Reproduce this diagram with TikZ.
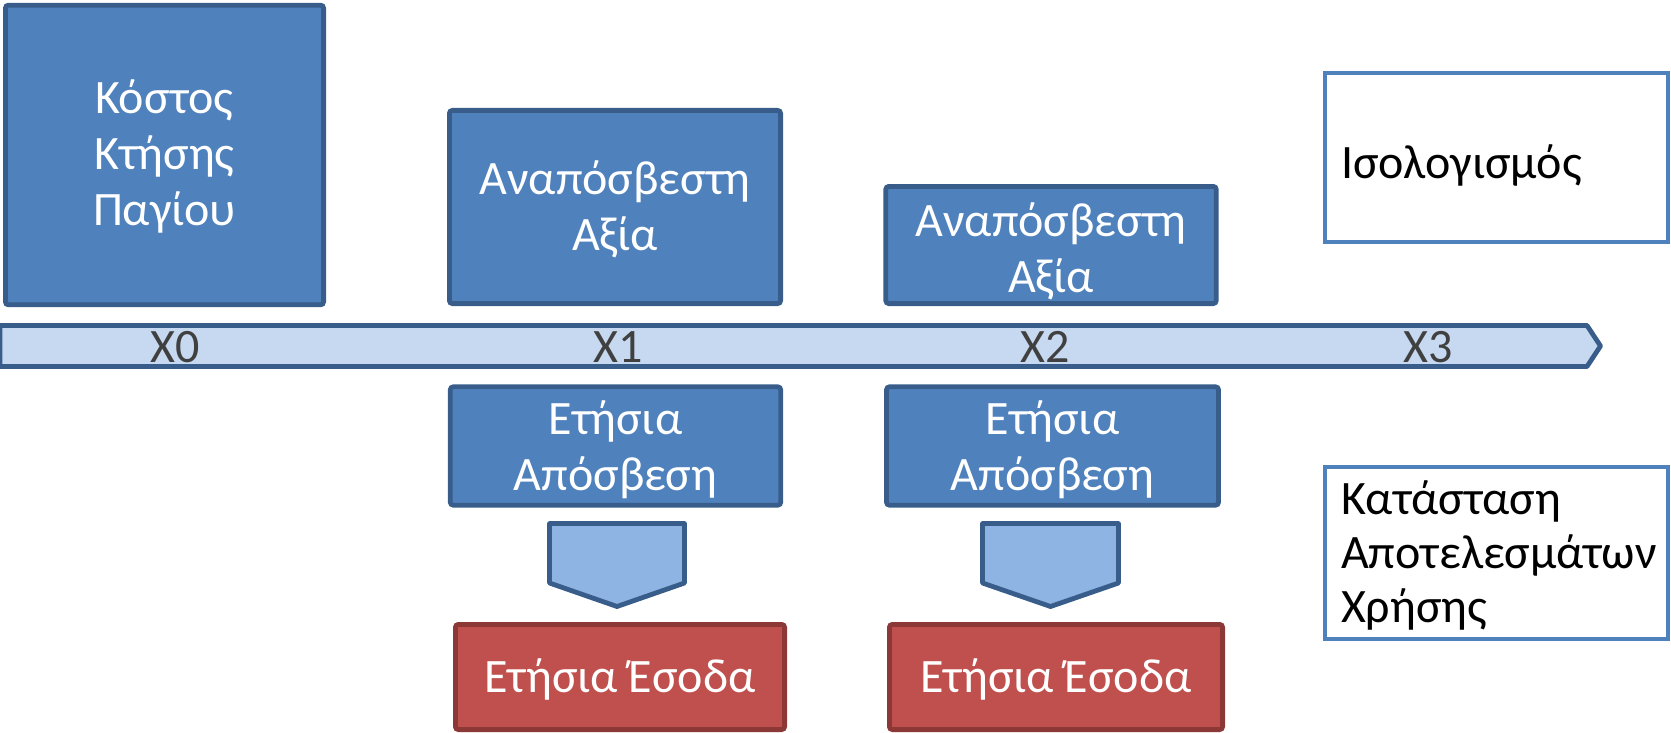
\documentclass[tikz,border=0pt]{standalone}
\usepackage{fontspec}
\setmainfont{Carlito}
\definecolor{boxfill}{HTML}{4F81BD}
\definecolor{boxline}{HTML}{385D8A}
\definecolor{linefill}{HTML}{C6D9F1}
\definecolor{arrfill}{HTML}{8EB4E3}
\definecolor{redfill}{HTML}{C0504D}
\definecolor{redline}{HTML}{8C3836}
\definecolor{labelgray}{HTML}{404040}
\begin{document}
\begin{tikzpicture}[x=0.5pt,y=-0.5pt,
  txt/.style={font=\fontsize{24pt}{28pt}\selectfont, align=center, inner sep=0pt, outer sep=0pt},
  bluebox/.style={draw=boxline, fill=boxfill, line width=2.4pt, rounded corners=1.5pt, inner sep=0pt},
  redbox/.style={draw=redline, fill=redfill, line width=2.4pt, rounded corners=1.5pt, inner sep=0pt},
  boxtext/.style={txt, text=white},
  legendbox/.style={draw=boxfill, fill=white, line width=2pt, minimum width=171.5pt, inner sep=0pt},
  legendtext/.style={txt, text=black, align=left, anchor=west},
  blockarrow/.style={draw=boxline, fill=arrfill, line width=2.4pt, line join=round},
  timeline/.style={draw=boxline, fill=linefill, line width=2.4pt, line join=round},
  ticklabel/.style={txt, text=labelgray}]
\useasboundingbox (0,0) rectangle (1671,733);

% timeline
\draw[timeline] (0,325.5) -- (1587,325.5) -- (1600.5,346) -- (1587,366.5) -- (0,366.5) -- cycle;
\node[ticklabel] (x0) at (175,347) {X0};
\node[ticklabel] (x1) at (618,347) {X1};
\node[ticklabel] (x2) at (1045,347) {X2};
\node[ticklabel] (x3) at (1428,347) {X3};

% top boxes
\node[bluebox, minimum width=159.1pt, minimum height=149.8pt] (cost) at (164.5,155) {};
\node[boxtext] (cost-text) at ([yshift=-0.5pt]cost.center) {Κόστος\\Κτήσης\\Παγίου};
\node[bluebox, minimum width=165.6pt, minimum height=96.6pt] (nbv1) at (615,207) {};
\node[boxtext] (nbv1-text) at ([yshift=-1pt]nbv1.center) {Αναπόσβεστη\\Αξία};
\node[bluebox, minimum width=165.2pt, minimum height=58.6pt] (nbv2) at (1051,245) {};
\node[boxtext] (nbv2-text) at ([yshift=-3.2pt]nbv2.center) {Αναπόσβεστη\\Αξία};

% depreciation boxes
\node[bluebox, minimum width=165.2pt, minimum height=59.2pt] (dep1) at (615.5,446) {};
\node[boxtext] (dep1-text) at ([yshift=-1.8pt]dep1.center) {Ετήσια\\Απόσβεση};
\node[bluebox, minimum width=166pt, minimum height=59.2pt] (dep2) at (1052.5,446) {};
\node[boxtext] (dep2-text) at ([yshift=-1.8pt]dep2.center) {Ετήσια\\Απόσβεση};

% block arrows
\draw[blockarrow] (549.5,523.5) -- (684.5,523.5) -- (684.5,583) -- (617,606.5) -- (549.5,583) -- cycle;
\draw[blockarrow] (982.5,523.5) -- (1118.5,523.5) -- (1118.5,583) -- (1050.5,606.5) -- (982.5,583) -- cycle;

% expense boxes
\node[redbox, minimum width=164.6pt, minimum height=52.6pt] (exp1) at (620,677) {};
\node[boxtext] (exp1-text) at ([yshift=-1pt]exp1.center) {Ετήσια Έσοδα};
\node[redbox, minimum width=166.6pt, minimum height=52.6pt] (exp2) at (1056,677) {};
\node[boxtext] (exp2-text) at ([yshift=-1pt]exp2.center) {Ετήσια Έσοδα};

% legend
\node[legendbox, minimum height=84.5pt] (bs) at (1496,157.5) {};
\node[legendtext] (bs-text) at (1341,165) {Ισολογισμός};
\node[legendbox, minimum height=86pt] (is) at (1496,553) {};
\node[legendtext, font=\fontsize{24pt}{27pt}\selectfont] (is-text) at (1341,555) {Κατάσταση\\Αποτελεσμάτων\\Χρήσης};
\end{tikzpicture}
\end{document}
